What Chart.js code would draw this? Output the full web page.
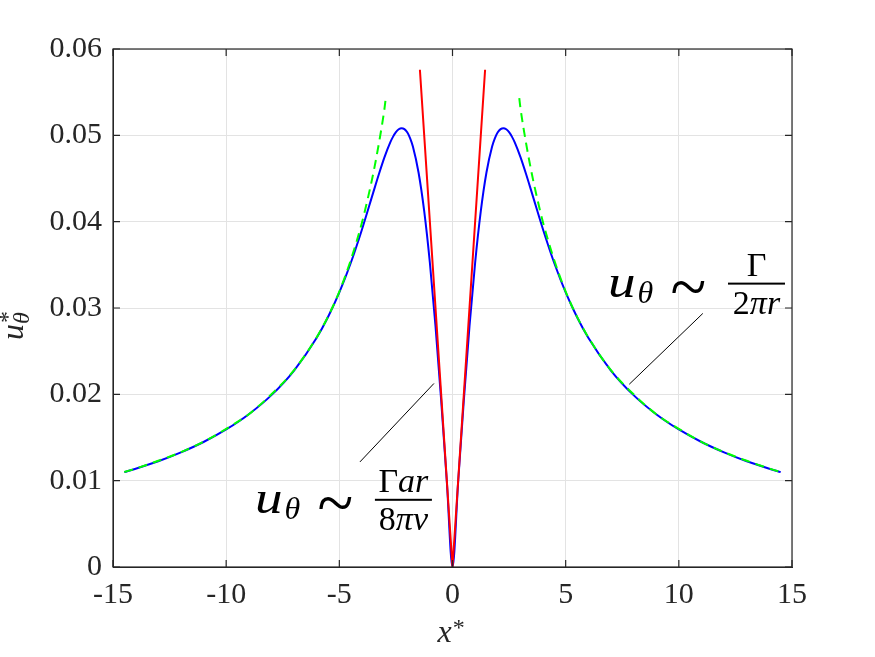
<!DOCTYPE html>
<html>
<head>
<meta charset="utf-8">
<script src="https://cdn.jsdelivr.net/npm/chart.js@4.4.1/dist/chart.umd.min.js"></script>
<style>
html,body{margin:0;padding:0;background:#fff;}
#wrap{width:875px;height:657px;}
</style>
</head>
<body>
<div id="wrap"><canvas id="c" width="875" height="657"></canvas></div>
<script>
// ---- data ----
const xTicks = [-15, -10, -5, 0, 5, 10, 15];
const yTicks = [0, 0.01, 0.02, 0.03, 0.04, 0.05, 0.06];

// full solution (blue)
const blueX = [-14.5,-14,-13,-12,-11,-10,-9,-8,-7,-6,-5.5,-5,-4.5,-4,-3.5,-3.25,-3,-2.75,-2.625,-2.5,-2.375,-2.25,-2.125,-2,-1.875,-1.75,-1.5,-1.25,-1,-0.75,-0.5,-0.25,0,
               0.25,0.5,0.75,1,1.25,1.5,1.75,1.875,2,2.125,2.25,2.375,2.5,2.625,2.75,3,3.25,3.5,4,4.5,5,5.5,6,7,8,9,10,11,12,13,14,14.5];
const blueY = [0.01099,0.01138,0.01225,0.01328,0.01448,0.01593,0.01770,0.01991,0.02276,0.02655,0.02895,0.03180,0.03518,0.03910,0.04339,0.04552,0.04750,0.04918,0.04985,0.05036,0.05070,0.05083,0.05072,0.05035,0.04968,0.04870,0.04569,0.04121,0.03524,0.02786,0.01930,0.00988,0,
               0.00988,0.01930,0.02786,0.03524,0.04121,0.04569,0.04870,0.04968,0.05035,0.05072,0.05083,0.05070,0.05036,0.04985,0.04918,0.04750,0.04552,0.04339,0.03910,0.03518,0.03180,0.02895,0.02655,0.02276,0.01991,0.01770,0.01593,0.01448,0.01328,0.01225,0.01138,0.01099];

// outer asymptote Γ/(2πr) (green dashed), two branches
const greenLX = [-14.5,-14,-13,-12,-11,-10,-9,-8,-7,-6,-5.5,-5,-4.5,-4,-3.75,-3.5,-3.25,-3,-2.95];
const greenLY = [0.0110,0.0114,0.0123,0.0133,0.0145,0.0160,0.0177,0.0200,0.0228,0.0266,0.0290,0.0319,0.0355,0.0399,0.0426,0.0456,0.0491,0.0532,0.0543];
const greenRX = [2.95,3,3.25,3.5,3.75,4,4.5,5,5.5,6,7,8,9,10,11,12,13,14,14.5];
const greenRY = [0.0543,0.0532,0.0491,0.0456,0.0426,0.0399,0.0355,0.0319,0.0290,0.0266,0.0228,0.0200,0.0177,0.0160,0.0145,0.0133,0.0123,0.0114,0.0110];

// core asymptote Γar/(8πν) (red)
const redX = [-1.44, 0, 1.44];
const redY = [0.0576, 0, 0.0576];

// annotation leader lines (data units)
const leaderL = [[-0.82, 0.02126], [-4.09, 0.01217]];
const leaderR = [[11.06, 0.02937], [7.81, 0.02117]];
// annotation anchors: left edge / baseline of "u"
const annoL = [-8.73, 0.00622];
const annoR = [6.87, 0.03126];

const pts = (xs, ys) => xs.map((x, i) => ({x: x, y: ys[i]}));

const SERIF = '"Liberation Serif", "Times New Roman", serif';
const AX = '#262626';

function drawFraction(ctx, x, y, num, den) {
  // x,y = left / baseline of u
  ctx.save();
  ctx.fillStyle = '#000';
  ctx.textBaseline = 'alphabetic';
  ctx.textAlign = 'left';
  ctx.font = 'italic 46px ' + SERIF;
  const wu = ctx.measureText('u').width;
  ctx.save();
  ctx.translate(x, y);
  ctx.scale(1.2, 1);
  ctx.fillText('u', 0, 0);
  ctx.restore();
  ctx.font = 'italic 32px ' + SERIF;
  ctx.fillText('θ', x + wu * 1.2 + 2, y + 6);
  // tilde, scaled so its ink box matches the reference (33 x 12 px)
  ctx.font = '70px ' + SERIF;
  const m = ctx.measureText('~');
  const inkW = m.actualBoundingBoxLeft + m.actualBoundingBoxRight;
  const inkH = m.actualBoundingBoxAscent + m.actualBoundingBoxDescent;
  const inkCx = (m.actualBoundingBoxRight - m.actualBoundingBoxLeft) / 2;
  const inkCy = (m.actualBoundingBoxDescent - m.actualBoundingBoxAscent) / 2;
  ctx.save();
  ctx.translate(x + 80, y - 10);
  ctx.scale(33 / inkW, 12 / inkH);
  ctx.textAlign = 'left';
  ctx.textBaseline = 'alphabetic';
  ctx.fillText('~', -inkCx, -inkCy);
  ctx.restore();
  // fraction
  const bx0 = x + 120, bx1 = x + 177, by = y - 13.5;
  ctx.fillRect(bx0, by - 1, bx1 - bx0, 2);
  const cx = (bx0 + bx1) / 2;
  ctx.textBaseline = 'alphabetic';
  drawMath(ctx, num, cx, y - 21);
  drawMath(ctx, den, cx, y + 17);
  ctx.restore();
}
// runs: [text, italic]
function drawMath(ctx, runs, cx, by) {
  const size = 34;
  let w = 0;
  runs.forEach(r => { ctx.font = (r[1] ? 'italic ' : '') + size + 'px ' + SERIF; w += ctx.measureText(r[0]).width; });
  let x = cx - w / 2;
  ctx.textAlign = 'left';
  runs.forEach(r => { ctx.font = (r[1] ? 'italic ' : '') + size + 'px ' + SERIF; ctx.fillText(r[0], x, by); x += ctx.measureText(r[0]).width; });
}

const decor = {
  id: 'decor',
  afterDatasetsDraw(chart) {
    const ctx = chart.ctx;
    const a = chart.chartArea;
    const xs = chart.scales.x, ys = chart.scales.y;
    ctx.save();
    // box
    ctx.strokeStyle = AX;
    ctx.lineWidth = 1.2;
    ctx.strokeRect(a.left, a.top, a.right - a.left, a.bottom - a.top);
    // inward ticks
    const tl = 7;
    ctx.beginPath();
    xTicks.forEach(v => {
      const p = xs.getPixelForValue(v);
      ctx.moveTo(p, a.bottom); ctx.lineTo(p, a.bottom - tl);
      ctx.moveTo(p, a.top); ctx.lineTo(p, a.top + tl);
    });
    yTicks.forEach(v => {
      const p = ys.getPixelForValue(v);
      ctx.moveTo(a.left, p); ctx.lineTo(a.left + tl, p);
      ctx.moveTo(a.right, p); ctx.lineTo(a.right - tl, p);
    });
    ctx.stroke();

    // leader lines
    ctx.strokeStyle = '#000';
    ctx.lineWidth = 1;
    [leaderL, leaderR].forEach(l => {
      ctx.beginPath();
      ctx.moveTo(xs.getPixelForValue(l[0][0]), ys.getPixelForValue(l[0][1]));
      ctx.lineTo(xs.getPixelForValue(l[1][0]), ys.getPixelForValue(l[1][1]));
      ctx.stroke();
    });

    // annotations
    drawFraction(ctx, xs.getPixelForValue(annoL[0]), ys.getPixelForValue(annoL[1]),
      [['Γ', false], ['ar', true]], [['8', false], ['πν', true]]);
    drawFraction(ctx, xs.getPixelForValue(annoR[0]), ys.getPixelForValue(annoR[1]),
      [['Γ', false]], [['2', false], ['πr', true]]);

    // axis titles
    ctx.fillStyle = AX;
    ctx.textAlign = 'left';
    ctx.textBaseline = 'alphabetic';
    const cx = (a.left + a.right) / 2;
    ctx.font = 'italic 32px ' + SERIF;
    const wx = ctx.measureText('x').width;
    ctx.fillText('x', cx - 15, 642);
    ctx.font = '24px ' + SERIF;
    ctx.fillText('*', cx - 15 + wx + 1, 635);

    const cy = (a.top + a.bottom) / 2;
    ctx.translate(23, cy + 32);
    ctx.rotate(-Math.PI / 2);
    ctx.font = 'italic 32px ' + SERIF;
    const wu = ctx.measureText('u').width;
    ctx.fillText('u', 0, 0);
    ctx.font = '24px ' + SERIF;
    ctx.fillText('*', wu + 1, -8);
    ctx.font = 'italic 24px ' + SERIF;
    ctx.fillText('θ', wu, 6);
    ctx.restore();
  }
};

new Chart(document.getElementById('c'), {
  type: 'scatter',
  data: {
    datasets: [
      {data: pts(redX, redY), showLine: true, borderColor: '#ff0000', borderWidth: 2, pointRadius: 0, order: 0},
      {data: pts(greenLX, greenLY), showLine: true, borderColor: '#00ff00', borderWidth: 2, borderDash: [9, 6], pointRadius: 0, cubicInterpolationMode: 'monotone', order: 1},
      {data: pts(greenRX, greenRY), showLine: true, borderColor: '#00ff00', borderWidth: 2, borderDash: [9, 6], pointRadius: 0, cubicInterpolationMode: 'monotone', order: 1},
      {data: pts(blueX, blueY), showLine: true, borderColor: '#0000ff', borderWidth: 2, pointRadius: 0, cubicInterpolationMode: 'monotone', order: 2}
    ]
  },
  options: {
    responsive: false,
    animation: false,
    devicePixelRatio: 1,
    layout: {padding: {top: 49, right: 83, left: 0, bottom: 0}},
    plugins: {legend: {display: false}, tooltip: {enabled: false}},
    scales: {
      x: {
        type: 'linear', min: -15, max: 15,
        afterBuildTicks: s => { s.ticks = xTicks.map(v => ({value: v})); },
        afterFit: s => { s.height = 90; },
        ticks: {font: {family: SERIF, size: 30}, color: AX, padding: 10, callback: v => String(v)},
        grid: {color: '#e3e3e3', lineWidth: 1, drawTicks: false},
        border: {display: true, color: AX}
      },
      y: {
        type: 'linear', min: 0, max: 0.06,
        afterBuildTicks: s => { s.ticks = yTicks.map(v => ({value: v})); },
        afterFit: s => { s.width = 113; },
        ticks: {font: {family: SERIF, size: 30}, color: AX, padding: 11, callback: v => v === 0 ? '0' : v.toFixed(2)},
        grid: {color: '#e3e3e3', lineWidth: 1, drawTicks: false},
        border: {display: true, color: AX}
      }
    }
  },
  plugins: [decor]
});
</script>
</body>
</html>
